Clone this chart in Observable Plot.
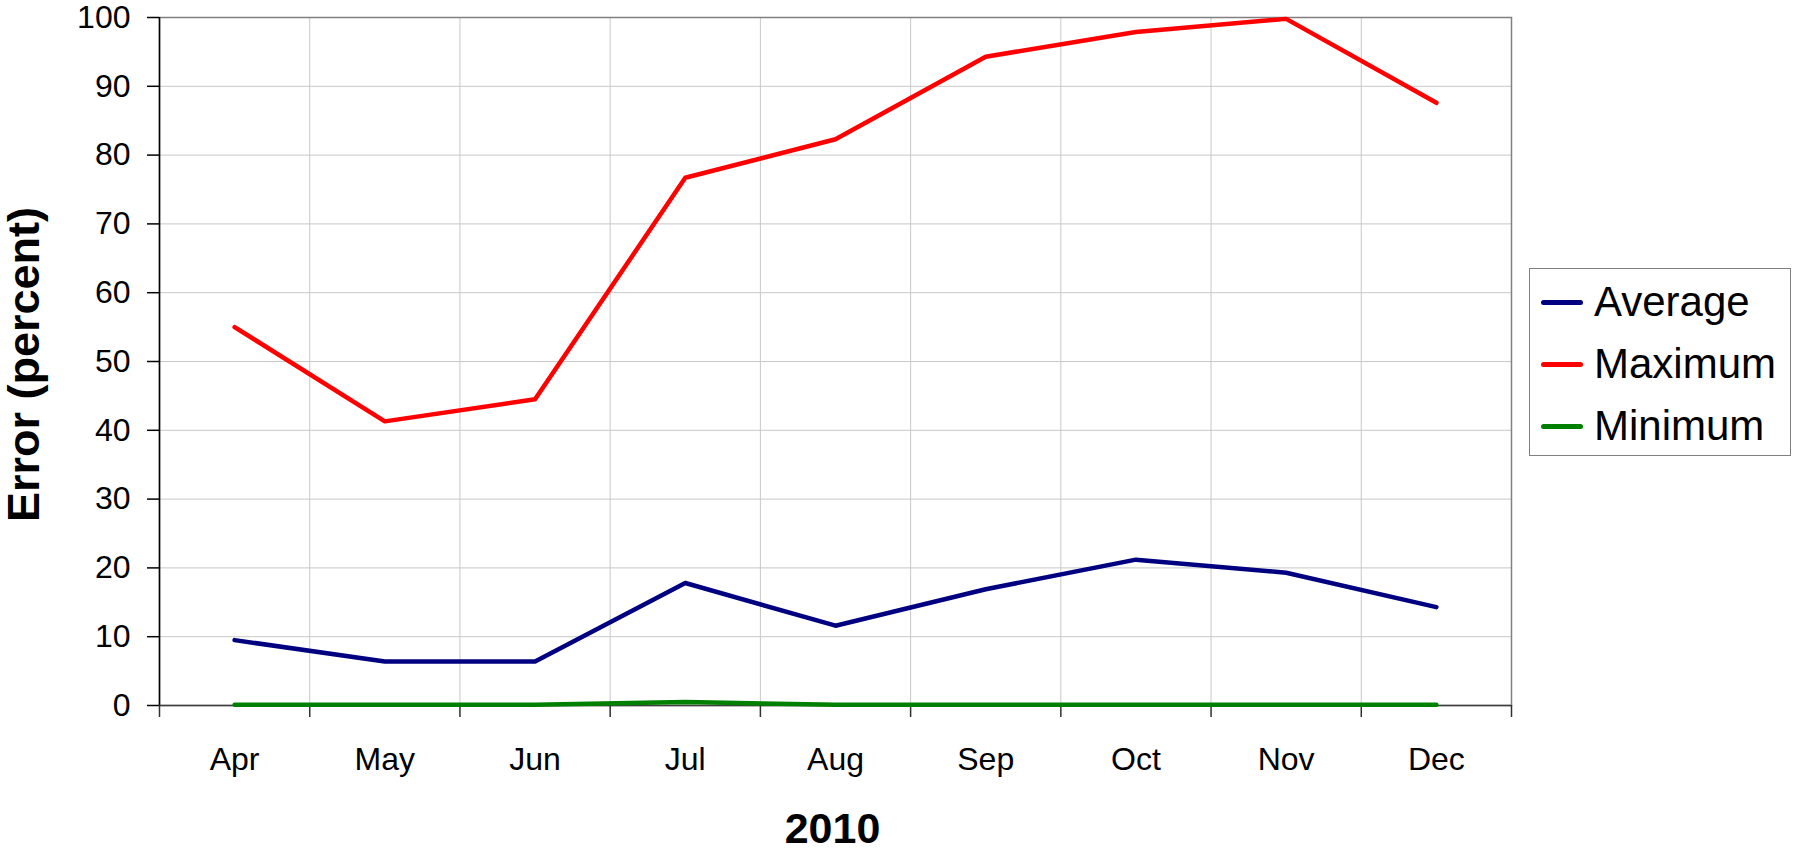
<!DOCTYPE html>
<html>
<head>
<meta charset="utf-8">
<script src="https://cdn.jsdelivr.net/npm/d3@7"></script>
<script src="https://cdn.jsdelivr.net/npm/@observablehq/plot@0.6"></script>
<style>
  html, body { margin: 0; padding: 0; background: white; }
  #wrap { position: relative; width: 1793px; height: 850px; font-family: "Liberation Sans", Arial, sans-serif; }
  #legend { position: absolute; left: 1529px; top: 268px; width: 262px; height: 188px; box-sizing: border-box;
            border: 1px solid #808080; background: white; padding-top: 2px; }
  .row { display: flex; align-items: center; height: 62px; font-size: 42px; line-height: 62px; color: black; }
  .sw { width: 42px; height: 5px; border-radius: 2.5px; margin-left: 11px; margin-right: 11px; }
</style>
</head>
<body>
<div id="wrap"></div>
<script>
const months = ["Apr", "May", "Jun", "Jul", "Aug", "Sep", "Oct", "Nov", "Dec"];
const seriesNames = ["Average", "Maximum", "Minimum"];
const seriesColors = ["#000080", "#FF0000", "#008000"];
const average = [9.5, 6.4, 6.4, 17.8, 11.6, 16.9, 21.2, 19.3, 14.3];
const maximum = [55.0, 41.3, 44.5, 76.7, 82.3, 94.3, 97.9, 99.8, 87.6];
const minimum = [0.1, 0.1, 0.1, 0.5, 0.1, 0.1, 0.1, 0.1, 0.1];
const yTicks = [0, 10, 20, 30, 40, 50, 60, 70, 80, 90, 100];
const xTitle = "2010";
const yTitle = "Error (percent)";

const seriesValues = [average, maximum, minimum];
const rows = [];
seriesNames.forEach((s, k) => months.forEach((m, i) => rows.push({series: s, month: m, i, value: seriesValues[k][i]})));

const boundaries = d3.range(0, months.length + 1);
const centers = months.map((m, i) => i + 0.5);

const chart = Plot.plot({
  width: 1793,
  height: 850,
  marginLeft: 159,
  marginRight: 282,
  marginTop: 17,
  marginBottom: 145,
  style: {fontFamily: "'Liberation Sans', Arial, sans-serif", fontSize: "32px", color: "black", background: "white", overflow: "visible"},
  x: {type: "linear", domain: [0, months.length]},
  y: {domain: [0, 100]},
  color: {domain: seriesNames, range: seriesColors},
  marks: [
    Plot.gridX(boundaries.slice(1, -1), {stroke: "#c8c8c8", strokeOpacity: 1, strokeWidth: 1}),
    Plot.gridY(yTicks.slice(1, -1), {stroke: "#c8c8c8", strokeOpacity: 1, strokeWidth: 1}),
    Plot.frame({stroke: "#808080", strokeWidth: 1.5}),
    Plot.ruleX([0], {stroke: "black", strokeWidth: 1.5}),
    Plot.ruleY([0], {stroke: "#404040", strokeWidth: 1.5}),
    Plot.axisY(yTicks, {tickSize: 12, tickPadding: 17, stroke: "black", strokeWidth: 1.5, label: null, fontSize: 32}),
    Plot.axisX(boundaries, {tickSize: 12, stroke: "#303030", strokeWidth: 1.5, tickFormat: () => "", label: null}),
    Plot.axisX(centers, {tickSize: 0, tickPadding: 42, tickFormat: (d) => months[Math.round(d - 0.5)], label: null, fontSize: 32}),
    Plot.line(rows, {x: (d) => d.i + 0.5, y: "value", z: "series", stroke: "series", strokeWidth: 4.5, strokeLinejoin: "round", strokeLinecap: "round"}),
    Plot.text([xTitle], {frameAnchor: "bottom", text: (d) => d, lineAnchor: "top", textAnchor: "middle", dy: 107, dx: -3, fontSize: 43, fontWeight: "bold", fill: "black"}),
    Plot.text([yTitle], {frameAnchor: "left", text: (d) => d, rotate: -90, textAnchor: "middle", dx: -135, dy: 3, fontSize: 45, fontWeight: "bold", fill: "black"})
  ]
});

const wrap = document.getElementById("wrap");
wrap.appendChild(chart);

const legend = document.createElement("div");
legend.id = "legend";
seriesNames.forEach((s, k) => {
  const row = document.createElement("div");
  row.className = "row";
  const sw = document.createElement("span");
  sw.className = "sw";
  sw.style.background = seriesColors[k];
  const label = document.createElement("span");
  label.textContent = s;
  row.appendChild(sw);
  row.appendChild(label);
  legend.appendChild(row);
});
wrap.appendChild(legend);
</script>
</body>
</html>
